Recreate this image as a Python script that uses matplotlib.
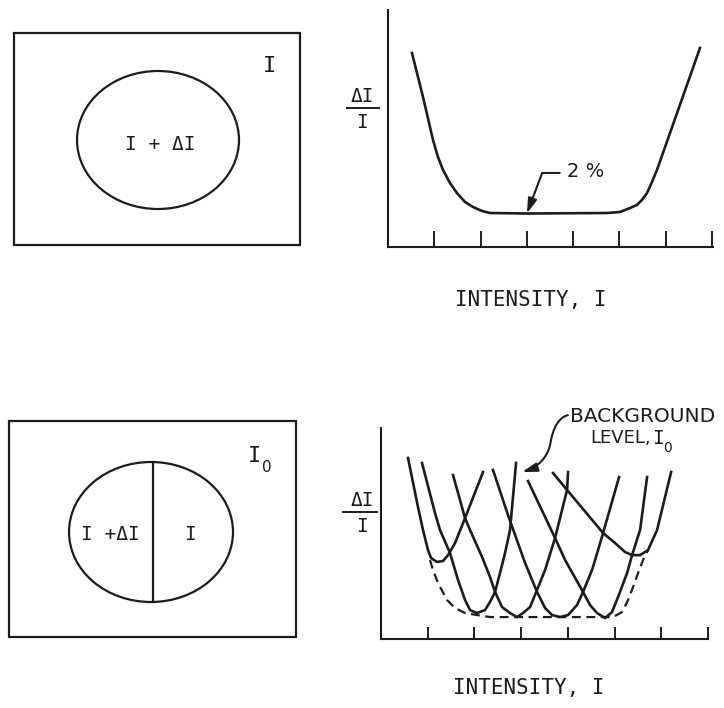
import matplotlib
matplotlib.use("Agg")
import matplotlib.pyplot as plt
from matplotlib.patches import Rectangle, Ellipse, FancyArrowPatch
from matplotlib.path import Path

# intensity axis ticks (arbitrary units)
intensity_ticks = [1, 2, 3, 4, 5, 6, 7]

# Weber ratio (percent) against intensity for one adapting level
weber_x = [0.518, 0.756, 0.972, 1.080, 1.188, 1.339, 1.490, 1.663, 1.836, 2.030, 2.203,
           3.002, 4.730, 5.011, 5.227, 5.378, 5.486, 5.594, 5.702, 5.810, 6.739]
weber_y = [11.58, 8.96, 6.39, 5.37, 4.60, 3.82, 3.22, 2.69, 2.39, 2.15, 2.03,
           2.00, 2.03, 2.09, 2.33, 2.51, 2.81, 3.22, 3.88, 4.60, 11.88]
weber_min_x = 3.0
weber_min = 2.0

# one curve per background level I0
bg1_x = [0.578, 0.792, 0.899, 1.006, 1.071, 1.199, 1.328, 1.435, 1.585, 1.799, 2.184]
bg1_y = [10.81, 7.88, 6.51, 5.31, 4.84, 4.60, 4.66, 5.01, 5.73, 7.22, 9.97]
bg2_x = [0.878, 1.156, 1.263, 1.478, 1.649, 1.799, 1.906, 2.056, 2.227, 2.334, 2.441,
         2.548, 2.655, 2.762, 2.891]
bg2_y = [10.51, 7.52, 6.51, 5.13, 3.52, 2.33, 1.73, 1.55, 1.73, 2.21, 2.81,
         3.94, 5.13, 6.51, 10.51]
bg3_x = [1.542, 1.799, 1.906, 2.163, 2.334, 2.441, 2.591, 2.762, 2.912, 3.041, 3.191,
         3.340, 3.512, 3.726, 3.983, 4.004]
bg3_y = [9.79, 7.22, 6.51, 4.90, 3.70, 2.81, 1.91, 1.55, 1.31, 1.55, 1.91,
         2.93, 4.12, 6.03, 8.90, 9.97]
bg4_x = [2.398, 2.719, 3.084, 3.340, 3.512, 3.662, 3.833, 4.004, 4.197, 4.325, 4.518,
         4.647, 4.754, 5.096]
bg4_y = [10.09, 7.40, 4.54, 2.81, 1.85, 1.43, 1.31, 1.43, 2.03, 2.81, 4.12,
         5.31, 6.33, 9.67]
bg5_x = [3.148, 3.726, 3.940, 4.325, 4.475, 4.625, 4.797, 4.946, 5.075, 5.268, 5.375,
         5.546, 5.696]
bg5_y = [9.43, 6.03, 4.72, 2.81, 2.03, 1.55, 1.25, 1.61, 2.51, 3.94, 5.01,
         6.51, 9.67]
bg6_x = [3.683, 3.983, 4.754, 5.011, 5.225, 5.375, 5.546, 5.717, 5.910, 6.210]
bg6_y = [9.91, 8.90, 6.33, 5.73, 5.19, 5.01, 5.01, 5.31, 6.51, 9.97]

# lower envelope of the family
env_x = [1.049, 1.113, 1.221, 1.413, 1.585, 1.799, 2.056, 2.334, 4.968, 5.161, 5.289,
         5.396, 5.503, 5.610, 5.717]
env_y = [4.72, 4.12, 3.34, 2.33, 1.85, 1.55, 1.43, 1.31, 1.31, 1.61, 2.33,
         3.10, 3.94, 4.72, 5.31]

ink = "#1c1c1c"
W, H = 724, 708
mono = "DejaVu Sans Mono"
sans = "DejaVu Sans"

fig = plt.figure(figsize=(W / 100, H / 100), dpi=100)
fig.patch.set_facecolor("white")

# drawing surface in pixel units for the stimulus sketches and lettering
canvas = fig.add_axes([0, 0, 1, 1])
canvas.set_xlim(0, W)
canvas.set_ylim(H, 0)
canvas.axis("off")


def graph_axes(left, top, right, bottom, xmax, ymax, tick_len):
    ax = fig.add_axes([left / W, 1 - bottom / H, (right - left) / W, (bottom - top) / H])
    ax.patch.set_alpha(0)
    ax.set_xlim(0, xmax)
    ax.set_ylim(0, ymax)
    ax.spines["top"].set_visible(False)
    ax.spines["right"].set_visible(False)
    for s in ("left", "bottom"):
        ax.spines[s].set_linewidth(1.5)
        ax.spines[s].set_color(ink)
    ax.set_xticks(intensity_ticks)
    ax.set_xticklabels([])
    ax.set_yticks([])
    ax.tick_params(axis="x", direction="in", length=tick_len, width=1.4, color=ink)
    return ax


def ratio_label(x, y, x0, x1):
    canvas.text(x, y, "ΔI", family=mono, fontsize=14, color=ink, ha="center", va="center")
    canvas.plot([x0, x1], [y + 12, y + 12], color=ink, lw=1.4)
    canvas.text(x, y + 27, "I", family=mono, fontsize=14, color=ink, ha="center", va="center")


# ---- upper sketch: disc I + dI on a field I
canvas.add_patch(Rectangle((14, 33), 286, 212, fill=False, ec=ink, lw=1.6))
canvas.add_patch(Ellipse((158, 140), 162, 138, fill=False, ec=ink, lw=1.6))
canvas.text(160, 145, "I + ΔI", family=mono, fontsize=14, color=ink, ha="center", va="center")
canvas.text(270, 66, "I", family=mono, fontsize=16, color=ink, ha="center", va="center")

# ---- upper graph
ax1 = graph_axes(388, 10, 713, 247, 7.02, 14.15, 11.5)
ax1.plot(weber_x, weber_y, color=ink, lw=1.9, solid_joinstyle="round")
lead = Path([(3.71, 4.42), (3.33, 4.42), (weber_min_x, weber_min)])
ax1.add_patch(FancyArrowPatch(path=lead, arrowstyle="-|>,head_length=0.6,head_width=0.18",
                              mutation_scale=15, color=ink, lw=1.5, shrinkA=0, shrinkB=0))
ax1.text(3.87, 4.48, f"{weber_min:.0f} %", family=sans, fontsize=14, color=ink, va="center")
ratio_label(362, 96, 347, 379)
canvas.text(531, 300, "INTENSITY, I", family=mono, fontsize=15, color=ink, ha="center", va="center")

# ---- lower sketch: split disc I + dI | I on a background I0
canvas.add_patch(Rectangle((9, 421), 287, 216, fill=False, ec=ink, lw=1.6))
canvas.add_patch(Ellipse((151, 532), 164, 140, fill=False, ec=ink, lw=1.6))
canvas.plot([153, 153], [462, 602], color=ink, lw=1.6)
canvas.text(110, 535, "I +ΔI", family=mono, fontsize=14, color=ink, ha="center", va="center")
canvas.text(190, 535, "I", family=mono, fontsize=14, color=ink, ha="center", va="center")
canvas.text(255, 456, "I", family=mono, fontsize=16, color=ink, ha="center", va="center")
canvas.text(267, 468, "0", family=sans, fontsize=11, color=ink, ha="center", va="center")

# ---- lower graph
ax2 = graph_axes(381, 428, 708, 639, 7.0, 12.6, 8.5)
for cx, cy in [(bg1_x, bg1_y), (bg2_x, bg2_y), (bg3_x, bg3_y),
               (bg4_x, bg4_y), (bg5_x, bg5_y), (bg6_x, bg6_y)]:
    ax2.plot(cx, cy, color=ink, lw=1.9, solid_joinstyle="round", clip_on=False)
ax2.plot(env_x, env_y, color=ink, lw=1.6, ls=(0, (4, 2.5)), clip_on=False)

bend = Path([(4.00, 13.37), (3.83, 13.25), (3.68, 12.72), (3.62, 11.58),
             (3.55, 10.81), (3.36, 10.27), (3.02, 9.97)],
            [Path.MOVETO, Path.CURVE4, Path.CURVE4, Path.CURVE4,
             Path.CURVE4, Path.CURVE4, Path.CURVE4])
ax2.add_patch(FancyArrowPatch(path=bend, arrowstyle="-|>,head_length=0.6,head_width=0.18",
                              mutation_scale=15, color=ink, lw=1.5, shrinkA=0, shrinkB=0,
                              clip_on=False))
ratio_label(362, 500, 343, 377)
canvas.text(643, 416, "BACKGROUND", family=sans, fontsize=14.5, color=ink, ha="center", va="center")
canvas.text(590, 438, "LEVEL,", family=sans, fontsize=13, color=ink, ha="left", va="center")
canvas.text(658, 438, "I", family=mono, fontsize=14, color=ink, ha="center", va="center")
canvas.text(668, 448, "0", family=sans, fontsize=10, color=ink, ha="center", va="center")
canvas.text(529, 688, "INTENSITY, I", family=mono, fontsize=15, color=ink, ha="center", va="center")

fig.savefig("out.png", dpi=100, facecolor="white")
